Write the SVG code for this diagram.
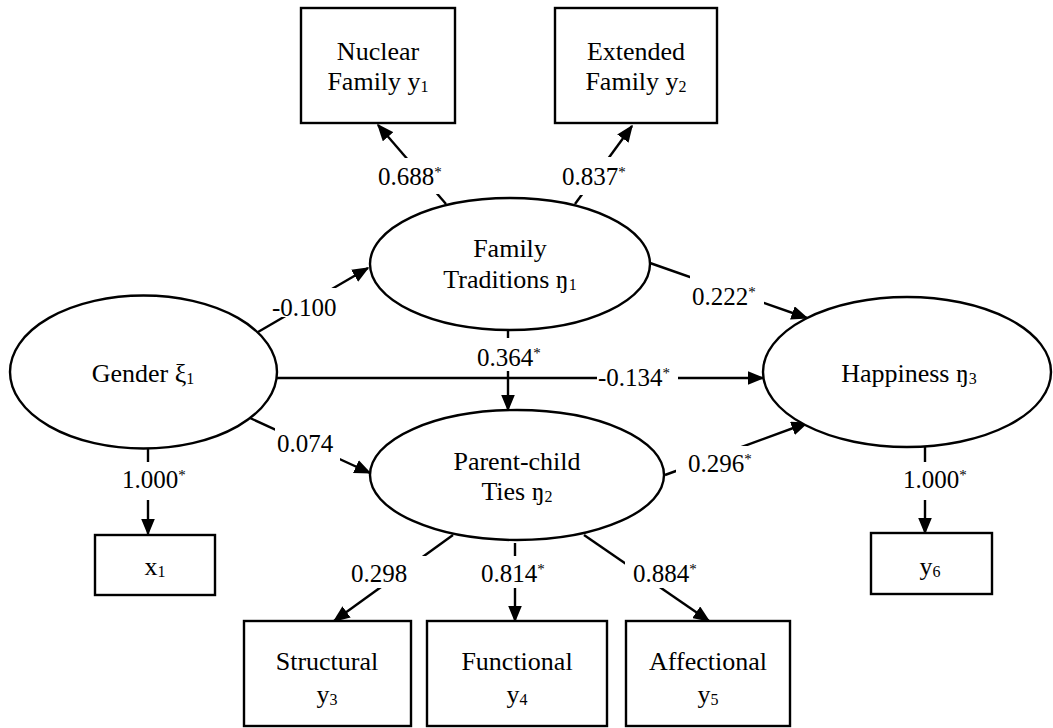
<svg xmlns="http://www.w3.org/2000/svg" width="1053" height="728" viewBox="0 0 1053 728">
<style>
  .shape { fill: #fff; stroke: #000; stroke-width: 2.4; }
  .conn { stroke: #000; stroke-width: 2.4; fill: none; marker-end: url(#arrow); }
  .t { font-family: "Liberation Serif", "Times New Roman", serif; font-size: 26px; fill: #000; text-anchor: middle; }
  .lbl { font-family: "Liberation Serif", "Times New Roman", serif; font-size: 25px; fill: #000; }
  .bg { fill: #fff; stroke: none; }
  .sub { font-size: 16px; }
  .sup { font-size: 15px; }
</style>
<defs>
  <marker id="arrow" markerUnits="userSpaceOnUse" markerWidth="17" markerHeight="14" refX="15.5" refY="7" orient="auto">
    <path d="M0,0 L17,7 L0,14 z" fill="#000"/>
  </marker>
</defs>
<rect width="1053" height="728" fill="#fff"/>

<g id="connectors">
  <line class="conn" x1="446" y1="204" x2="378" y2="125"/>
  <line class="conn" x1="575" y1="204" x2="632" y2="126"/>
  <line class="conn" x1="258" y1="332" x2="368" y2="268"/>
  <line class="conn" x1="650" y1="263" x2="807" y2="318"/>
  <line class="conn" x1="277" y1="378" x2="763" y2="378"/>
  <line class="conn" x1="508" y1="330" x2="508" y2="410"/>
  <line class="conn" x1="250" y1="418" x2="370" y2="473"/>
  <line class="conn" x1="665" y1="475" x2="807" y2="423"/>
  <line class="conn" x1="148" y1="448" x2="148" y2="534"/>
  <line class="conn" x1="925" y1="447" x2="925" y2="533"/>
  <line class="conn" x1="453" y1="535" x2="334" y2="621"/>
  <line class="conn" x1="515" y1="543" x2="515" y2="621"/>
  <line class="conn" x1="584" y1="535" x2="709" y2="621"/>
</g>

<g id="labels">
  <rect class="bg" x="376" y="158" width="66" height="36"/>
  <text class="lbl" x="378" y="185">0.688<tspan class="sup" dy="-8">*</tspan></text>
  <rect class="bg" x="560" y="157" width="70" height="38"/>
  <text class="lbl" x="562" y="185">0.837<tspan class="sup" dy="-8">*</tspan></text>
  <rect class="bg" x="270" y="288" width="72" height="29"/>
  <text class="lbl" x="272" y="316">-0.100</text>
  <rect class="bg" x="690" y="275" width="74" height="35"/>
  <text class="lbl" x="692" y="305">0.222<tspan class="sup" dy="-8">*</tspan></text>
  <rect class="bg" x="597" y="362" width="81" height="30"/>
  <text class="lbl" x="598" y="386">-0.134<tspan class="sup" dy="-8">*</tspan></text>
  <rect class="bg" x="474" y="338" width="66" height="33"/>
  <text class="lbl" x="477" y="366">0.364<tspan class="sup" dy="-8">*</tspan></text>
  <rect class="bg" x="275" y="428" width="65" height="34"/>
  <text class="lbl" x="277" y="452">0.074</text>
  <rect class="bg" x="676" y="446" width="86" height="32"/>
  <text class="lbl" x="688" y="472">0.296<tspan class="sup" dy="-8">*</tspan></text>
  <rect class="bg" x="118" y="462" width="74" height="38"/>
  <text class="lbl" x="122" y="488">1.000<tspan class="sup" dy="-8">*</tspan></text>
  <rect class="bg" x="900" y="462" width="72" height="38"/>
  <text class="lbl" x="903" y="488">1.000<tspan class="sup" dy="-8">*</tspan></text>
  <rect class="bg" x="348" y="556" width="78" height="32"/>
  <text class="lbl" x="351" y="582">0.298</text>
  <rect class="bg" x="478" y="556" width="72" height="32"/>
  <text class="lbl" x="481" y="582">0.814<tspan class="sup" dy="-8">*</tspan></text>
  <rect class="bg" x="625" y="556" width="79" height="32"/>
  <text class="lbl" x="633" y="582">0.884<tspan class="sup" dy="-8">*</tspan></text>
</g>

<g id="nuclear">
  <rect class="shape" x="301" y="8" width="154" height="115"/>
  <text class="t" x="378" y="60">Nuclear</text>
  <text class="t" x="378" y="90">Family y<tspan class="sub" dy="2">1</tspan></text>
</g>
<g id="extended">
  <rect class="shape" x="555" y="8" width="162" height="115"/>
  <text class="t" x="636" y="60">Extended</text>
  <text class="t" x="636" y="90">Family y<tspan class="sub" dy="2">2</tspan></text>
</g>
<g id="family-traditions">
  <ellipse class="shape" cx="510" cy="264" rx="140" ry="66"/>
  <text class="t" x="510" y="257">Family</text>
  <text class="t" x="510" y="288">Traditions ŋ<tspan class="sub" dy="2">1</tspan></text>
</g>
<g id="gender">
  <ellipse class="shape" cx="143.5" cy="372" rx="133.5" ry="76.5"/>
  <text class="t" x="143" y="382">Gender ξ<tspan class="sub" dy="2">1</tspan></text>
</g>
<g id="happiness">
  <ellipse class="shape" cx="907" cy="372" rx="144" ry="75"/>
  <text class="t" x="909" y="382">Happiness ŋ<tspan class="sub" dy="2">3</tspan></text>
</g>
<g id="parent-child">
  <ellipse class="shape" cx="517" cy="475" rx="147" ry="65"/>
  <text class="t" x="517" y="470">Parent-child</text>
  <text class="t" x="517" y="500">Ties ŋ<tspan class="sub" dy="2">2</tspan></text>
</g>
<g id="x1">
  <rect class="shape" x="95" y="535" width="120" height="60"/>
  <text class="t" x="155" y="575">x<tspan class="sub" dy="2">1</tspan></text>
</g>
<g id="y6">
  <rect class="shape" x="871" y="533" width="121" height="61"/>
  <text class="t" x="930" y="575">y<tspan class="sub" dy="2">6</tspan></text>
</g>
<g id="structural">
  <rect class="shape" x="244" y="621" width="167" height="105"/>
  <text class="t" x="327" y="670">Structural</text>
  <text class="t" x="327" y="703">y<tspan class="sub" dy="2">3</tspan></text>
</g>
<g id="functional">
  <rect class="shape" x="427" y="621" width="180" height="105"/>
  <text class="t" x="517" y="670">Functional</text>
  <text class="t" x="517" y="703">y<tspan class="sub" dy="2">4</tspan></text>
</g>
<g id="affectional">
  <rect class="shape" x="626" y="621" width="164" height="105"/>
  <text class="t" x="708" y="670">Affectional</text>
  <text class="t" x="708" y="703">y<tspan class="sub" dy="2">5</tspan></text>
</g>
</svg>
